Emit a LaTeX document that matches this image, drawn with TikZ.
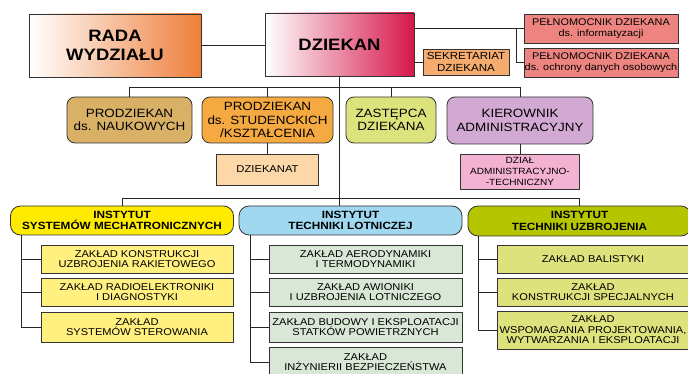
\documentclass[tikz,border=0pt]{standalone}
\usepackage{fontspec}
\setmainfont{Liberation Sans}[FakeStretch=1.12]

\definecolor{radaor}{HTML}{EE7F3A}
\definecolor{dziekred}{HTML}{D7164B}
\definecolor{dziekpink}{HTML}{F2AAB6}
\definecolor{pelcol}{HTML}{EE8480}
\definecolor{sekrcol}{HTML}{F5AC6E}
\definecolor{naukcol}{HTML}{D8B066}
\definecolor{studcol}{HTML}{F5A941}
\definecolor{dzkcol}{HTML}{FCD7A8}
\definecolor{zastcol}{HTML}{DDE37C}
\definecolor{kiercol}{HTML}{D2A9D2}
\definecolor{dzialcol}{HTML}{F4B2D2}
\definecolor{mechcol}{HTML}{FFEB00}
\definecolor{mechsub}{HTML}{FFF07F}
\definecolor{lotcol}{HTML}{A0D8F0}
\definecolor{lotsub}{HTML}{D9E8D6}
\definecolor{uzbcol}{HTML}{B5C600}
\definecolor{uzbsub}{HTML}{DEE27C}

\begin{document}
\begin{tikzpicture}[x=1pt,y=-1pt,
	box/.style={draw=black!80,line width=0.8pt,align=center,inner sep=0pt},
	topbox/.style={box,minimum height=63,font=\bfseries\fontsize{16.5}{19}\selectfont},
	headbox/.style={box,rounded corners=8pt,minimum height=46,font=\fontsize{12}{13.6}\selectfont},
	instbox/.style={box,rounded corners=10pt,minimum width=223,minimum height=29,font=\bfseries\fontsize{10.5}{11.7}\selectfont},
	subbox/.style={box,minimum height=28,font=\fontsize{9.9}{10.6}\selectfont},
	conn/.style={draw=black!85,line width=0.8pt}]
	\useasboundingbox (0,0) rectangle (688,374);
	\clip (0,0) rectangle (688,374);

	\node[topbox,minimum width=172,left color=white,right color=radaor] (rada) at (115,45.5) {RADA\\WYDZIAŁU};
	\node[topbox,minimum width=149,left color=white,middle color=dziekpink,right color=dziekred] (dziekan) at (339.5,44.5) {DZIEKAN};

	\node[box,fill=pelcol,minimum width=154,minimum height=29,font=\fontsize{9.7}{10.7}\selectfont] (pelA) at (601,28.5) {PEŁNOMOCNIK DZIEKANA\\ds. informatyzacji};
	\node[box,fill=pelcol,minimum width=154,minimum height=29,font=\fontsize{9.7}{10.7}\selectfont] (pelB) at (601,62.5) {PEŁNOMOCNIK DZIEKANA\\ds. ochrony danych osobowych};
	\node[box,fill=sekrcol,minimum width=86,minimum height=26,font=\fontsize{10.3}{11.7}\selectfont] (sekr) at (466,62) {SEKRETARIAT\\DZIEKANA};

	\node[headbox,fill=naukcol,minimum width=125] (prodN) at (129.5,120) {PRODZIEKAN\\ds. NAUKOWYCH};
	\node[headbox,fill=studcol,minimum width=131] (prodS) at (267.5,120) {PRODZIEKAN\\ds. STUDENCKICH\\/KSZTAŁCENIA};
	\node[headbox,fill=zastcol,minimum width=90] (zast) at (391,120) {ZASTĘPCA\\DZIEKANA};
	\node[headbox,fill=kiercol,minimum width=146,minimum height=47] (kier) at (520,120.5) {KIEROWNIK\\ADMINISTRACYJNY};

	\node[box,fill=dzkcol,minimum width=102,minimum height=31,font=\fontsize{10}{11}\selectfont] (dziekanat) at (267.5,169.5) {DZIEKANAT};
	\node[box,fill=dzialcol,minimum width=119,minimum height=35,font=\fontsize{9}{11}\selectfont] (dzial) at (520,171.5) {DZIAŁ\\ADMINISTRACYJNO-\\-TECHNICZNY};

	\node[instbox,fill=mechcol] (instM) at (122,220.5) {INSTYTUT\\SYSTEMÓW MECHATRONICZNYCH};
	\node[instbox,fill=lotcol] (instL) at (350.5,220.5) {INSTYTUT\\TECHNIKI LOTNICZEJ};
	\node[instbox,fill=uzbcol,minimum height=30] (instU) at (579.5,221) {INSTYTUT\\TECHNIKI UZBROJENIA};

	\node[subbox,fill=mechsub,minimum width=192] (mech1) at (137,259) {ZAKŁAD KONSTRUKCJI\\UZBROJENIA RAKIETOWEGO};
	\node[subbox,fill=mechsub,minimum width=192] (mech2) at (137,292) {ZAKŁAD RADIOELEKTRONIKI\\I DIAGNOSTYKI};
	\node[subbox,fill=mechsub,minimum width=192,minimum height=30] (mech3) at (137,327) {ZAKŁAD\\SYSTEMÓW STEROWANIA};

	\node[subbox,fill=lotsub,minimum width=193] (lot1) at (365.5,259) {ZAKŁAD AERODYNAMIKI\\I TERMODYNAMIKI};
	\node[subbox,fill=lotsub,minimum width=193] (lot2) at (365.5,292) {ZAKŁAD AWIONIKI\\I UZBROJENIA LOTNICZEGO};
	\node[subbox,fill=lotsub,minimum width=193,minimum height=30] (lot3) at (365.5,327) {ZAKŁAD BUDOWY I EKSPLOATACJI\\STATKÓW POWIETRZNYCH};
	\node[subbox,fill=lotsub,minimum width=193,minimum height=30] (lot4) at (365.5,362) {ZAKŁAD\\INŻYNIERII BEZPIECZEŃSTWA};

	\node[subbox,fill=uzbsub,minimum width=192] (uzb1) at (593,259) {ZAKŁAD BALISTYKI};
	\node[subbox,fill=uzbsub,minimum width=192] (uzb2) at (593,292) {ZAKŁAD\\KONSTRUKCJI SPECJALNYCH};
	\node[subbox,fill=uzbsub,minimum width=192,minimum height=38] (uzb3) at (593,330) {ZAKŁAD\\WSPOMAGANIA PROJEKTOWANIA,\\WYTWARZANIA I EKSPLOATACJI};

	\coordinate (busA) at (339.5,87);
	\coordinate (busB) at (339.5,198);
	\coordinate (pelfork) at (516,0);
	\coordinate (treeM) at (21,0);
	\coordinate (treeL) at (250,0);
	\coordinate (treeU) at (478,0);

	\draw[conn] (rada.east) -- (rada.east -| dziekan.west);
	\draw[conn] (dziekan.east |- pelA.west) -- (pelA.west);
	\draw[conn] (pelA.west -| pelfork) -- (pelB.west -| pelfork) -- (pelB.west);
	\draw[conn] (dziekan.east |- sekr.west) -- (sekr.west);

	\draw[conn] (dziekan.south) -- (busB);
	\draw[conn] (prodN.north) -- (prodN.north |- busA) -- (kier.north |- busA) -- (kier.north);
	\draw[conn] (prodS.north) -- (prodS.north |- busA);
	\draw[conn] (zast.north) -- (zast.north |- busA);
	\draw[conn] (prodS.south) -- (dziekanat.north);
	\draw[conn] (kier.south) -- (dzial.north);

	\draw[conn] (instM.north) -- (instM.north |- busB) -- (instU.north |- busB) -- (instU.north);
	\draw[conn] (busB) -- (busB |- instL.north);

	\draw[conn] (instM.south -| treeM) -- (mech3.west -| treeM) -- (mech3.west);
	\foreach \n in {mech1,mech2}
		\draw[conn] (\n.west -| treeM) -- (\n.west);
	\draw[conn] (instL.south -| treeL) -- (lot4.west -| treeL) -- (lot4.west);
	\foreach \n in {lot1,lot2,lot3}
		\draw[conn] (\n.west -| treeL) -- (\n.west);
	\draw[conn] (instU.south -| treeU) -- (uzb3.west -| treeU) -- (uzb3.west);
	\foreach \n in {uzb1,uzb2}
		\draw[conn] (\n.west -| treeU) -- (\n.west);
\end{tikzpicture}
\end{document}
